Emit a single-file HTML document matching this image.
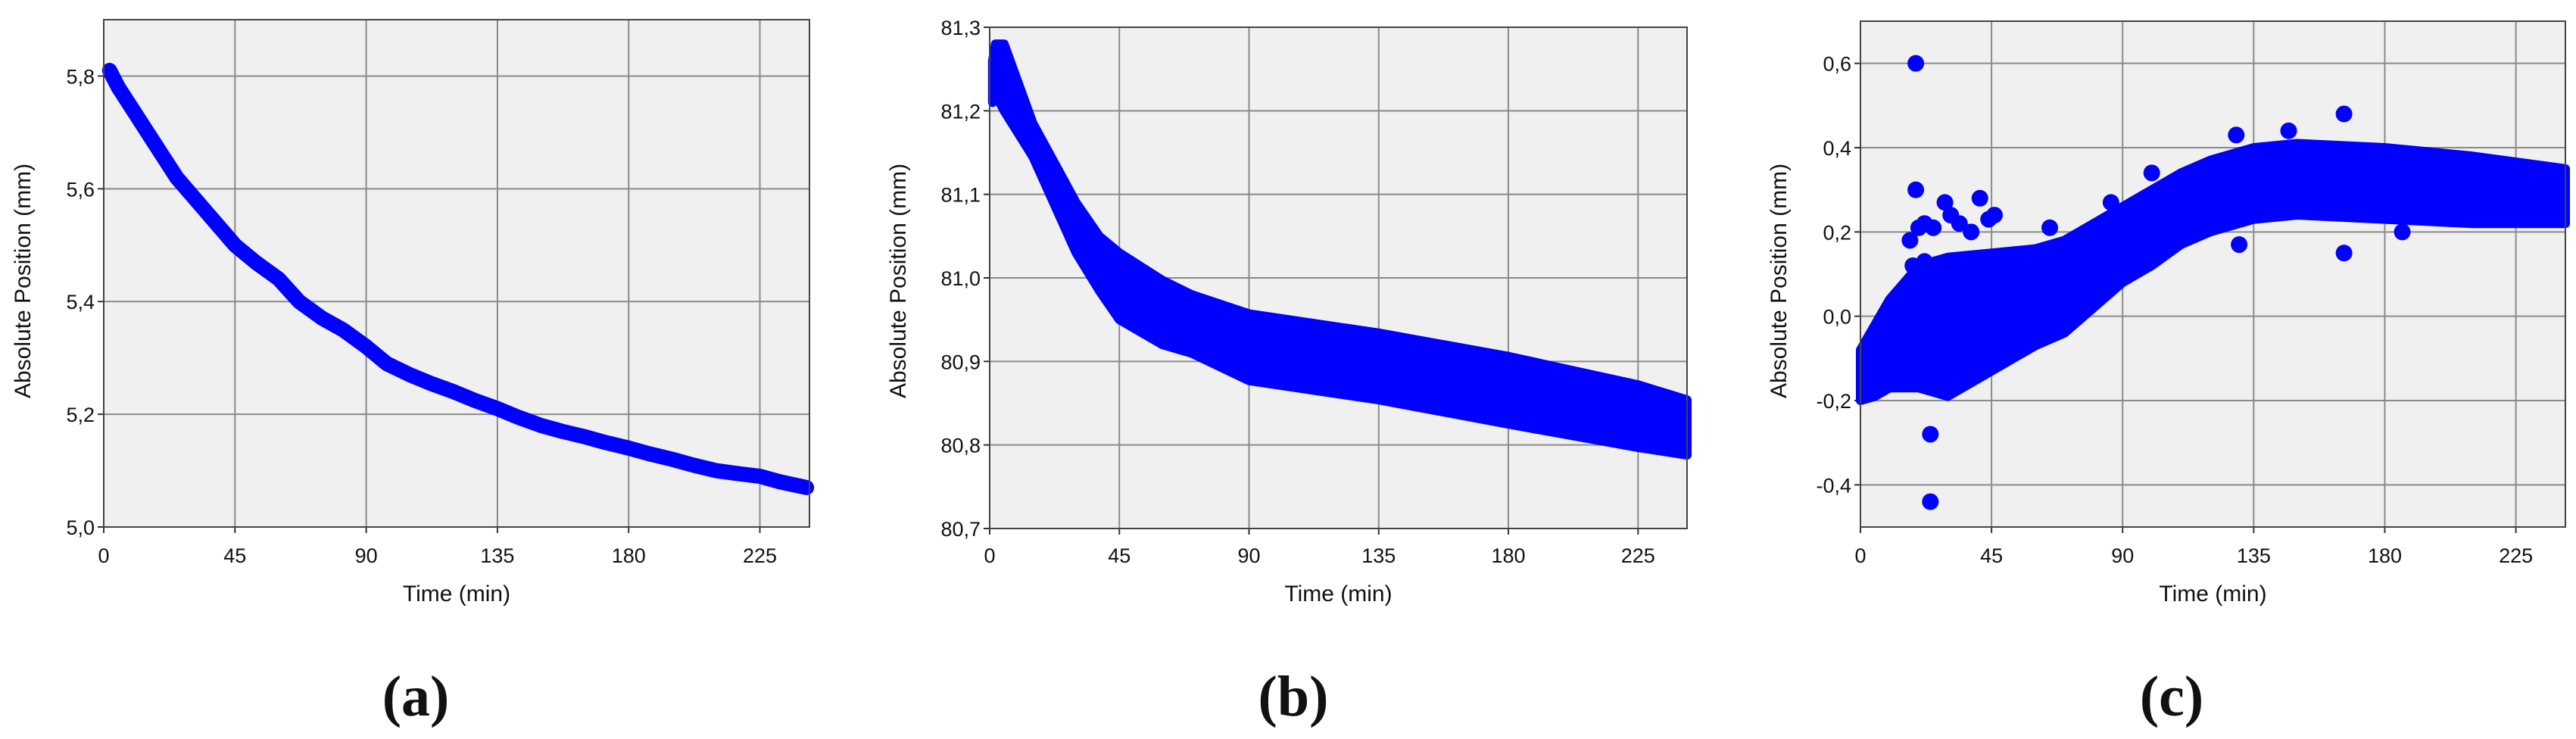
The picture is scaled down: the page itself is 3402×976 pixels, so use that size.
<!DOCTYPE html>
<html><head><meta charset="utf-8"><style>
html,body{margin:0;padding:0;background:#fff}
svg{display:block}
text{font-family:"Liberation Sans",sans-serif;fill:#111}
.tick{font-size:27px}
.title{font-size:30px}
.panel{font-family:"Liberation Serif",serif;font-size:76px;font-weight:bold}
</style></head><body>
<svg id="fig" width="3402" height="976" viewBox="0 0 3402 976"></svg>
<script>
// ---- Chart (a) data ----
const aTime = [2,5,10,15,20,25,30,35,40,45,52,60,67,75,82,90,97,105,112,120,127,135,142,150,157,165,172,180,187,195,202,210,217,225,232,241];
const aValue = [5.81,5.78,5.74,5.70,5.66,5.62,5.59,5.56,5.53,5.50,5.47,5.44,5.40,5.37,5.35,5.32,5.29,5.27,5.255,5.24,5.225,5.21,5.195,5.18,5.17,5.16,5.15,5.14,5.13,5.12,5.11,5.10,5.095,5.09,5.08,5.07];
// ---- Chart (b) data ----
const bTime = [1,2,5,15,30,38,45,60,70,90,135,180,225,242];
const bUpper = [81.26,81.28,81.28,81.185,81.09,81.05,81.03,80.997,80.98,80.957,80.934,80.906,80.872,80.854];
const bLower = [81.21,81.22,81.2,81.145,81.03,80.985,80.95,80.92,80.91,80.877,80.854,80.825,80.797,80.788];
// ---- Chart (c) data ----
const cTime = [0,5,10,15,20,25,30,45,60,70,80,90,100,110,120,135,150,180,210,242];
const cUpper = [-0.08,-0.02,0.04,0.08,0.12,0.13,0.14,0.15,0.16,0.18,0.22,0.26,0.3,0.34,0.37,0.4,0.41,0.4,0.38,0.35];
const cLower = [-0.2,-0.19,-0.17,-0.17,-0.17,-0.18,-0.19,-0.13,-0.07,-0.04,0.02,0.08,0.12,0.17,0.2,0.23,0.24,0.23,0.22,0.22];
const cOutX = [19,19,24,24,129,147,166,166,130,186,65,41,29,17,20,22,25,31,34,38,44,46,22,18,100,86];
const cOutY = [0.6,0.3,-0.28,-0.44,0.43,0.44,0.48,0.15,0.17,0.2,0.21,0.28,0.27,0.18,0.21,0.22,0.21,0.24,0.22,0.2,0.23,0.24,0.13,0.12,0.34,0.27];
// ---- Axis ticks ----
const xTicks = [0,45,90,135,180,225];
const aYTicks = [5.0,5.2,5.4,5.6,5.8];
const bYTicks = [80.7,80.8,80.9,81.0,81.1,81.2,81.3];
const cYTicks = [-0.4,-0.2,0.0,0.2,0.4,0.6];

const NS='http://www.w3.org/2000/svg';
const svg=document.getElementById('fig');
function mk(tag,attrs,parent){const e=document.createElementNS(NS,tag);for(const k in attrs)e.setAttribute(k,attrs[k]);(parent||svg).appendChild(e);return e;}

function chart(cfg){
  const g=mk('g',{});
  
  
  const X=t=>cfg.L+t/cfg.xmax*(cfg.R-cfg.L);
  const Y=v=>cfg.B-(v-cfg.ymin)/(cfg.ymax-cfg.ymin)*(cfg.B-cfg.T);
  const bg=mk('rect',{x:cfg.L,y:cfg.T,width:cfg.R-cfg.L,height:cfg.B-cfg.T,fill:'#f0f0f0'},g);
  
  
  xTicks.forEach(t=>{
    const x=X(t);
    if(t>0){const l=mk('line',{x1:x,x2:x,y1:cfg.T,y2:cfg.B,stroke:'#8a8a8a','stroke-width':2},g);
      
      }
    mk('line',{x1:x,x2:x,y1:cfg.B,y2:cfg.B+8,stroke:'#333','stroke-width':2},g);
    const tx=mk('text',{x:x,y:743,'text-anchor':'middle',class:'tick'},g);
    tx.textContent=t;
    
    
  });
  cfg.yTicks.forEach(v=>{
    const y=Y(v);
    if(Math.abs(y-cfg.B)>2&&Math.abs(y-cfg.T)>2){const l=mk('line',{x1:cfg.L,x2:cfg.R,y1:y,y2:y,stroke:'#8a8a8a','stroke-width':2},g);
      
      }
    mk('line',{x1:cfg.L-8,x2:cfg.L,y1:y,y2:y,stroke:'#333','stroke-width':2},g);
    const tx=mk('text',{x:cfg.L-12,y:y+10,'text-anchor':'end',class:'tick'},g);
    tx.textContent=v.toFixed(1).replace('.',',');
    
    
  });
  cfg.draw(g,X,Y);
  const fr=mk('rect',{x:cfg.L,y:cfg.T,width:cfg.R-cfg.L,height:cfg.B-cfg.T,fill:'none',stroke:'#444','stroke-width':2},g);
  
  
  const xt=mk('text',{x:(cfg.L+cfg.R)/2,y:794,'text-anchor':'middle',class:'title'},g);
  xt.textContent='Time (min)';
  
  
  const yt=mk('text',{x:0,y:0,'text-anchor':'middle',class:'title',transform:`translate(${cfg.yx},371) rotate(-90)`},g);
  yt.textContent='Absolute Position (mm)';
  
  
  const pl=mk('text',{x:cfg.px,y:945,'text-anchor':'middle',class:'panel'},g);
  pl.textContent='('+cfg.letter+')';
  
  
}
function band(g,X,Y,ts,up,lo){
  let d='M'+ts.map((t,i)=>X(t)+','+Y(up[i])).join(' L');
  for(let i=ts.length-1;i>=0;i--)d+=' L'+X(ts[i])+','+Y(lo[i]);
  const p=mk('path',{d:d+'Z',fill:'#0000ff',stroke:'#0000ff','stroke-width':12,'stroke-linejoin':'round'},g);
  
  
}
chart({name:'chart-a',letter:'a',L:137,R:1069,T:26,B:696,xmax:242,ymin:5.0,ymax:5.9,yTicks:aYTicks,yx:40,px:549,
  draw:(g,X,Y)=>{
    const p=mk('polyline',{points:aTime.map((t,i)=>X(t)+','+Y(aValue[i])).join(' '),fill:'none',stroke:'#0000ff','stroke-width':20,'stroke-linecap':'round','stroke-linejoin':'round'},g);
    
    
  }});
chart({name:'chart-b',letter:'b',L:1307,R:2228,T:36,B:698,xmax:242,ymin:80.7,ymax:81.3,yTicks:bYTicks,yx:1196,px:1708,
  draw:(g,X,Y)=>band(g,X,Y,bTime,bUpper,bLower)});
chart({name:'chart-c',letter:'c',L:2457,R:3388,T:28,B:696,xmax:242,ymin:-0.5,ymax:0.7,yTicks:cYTicks,yx:2359,px:2868,
  draw:(g,X,Y)=>{
    band(g,X,Y,cTime,cUpper,cLower);
    cOutX.forEach((t,i)=>{
      const c=mk('circle',{cx:X(t),cy:Y(cOutY[i]),r:11,fill:'#0000ff'},g);
      
      
    });
  }});
</script>
</body></html>
